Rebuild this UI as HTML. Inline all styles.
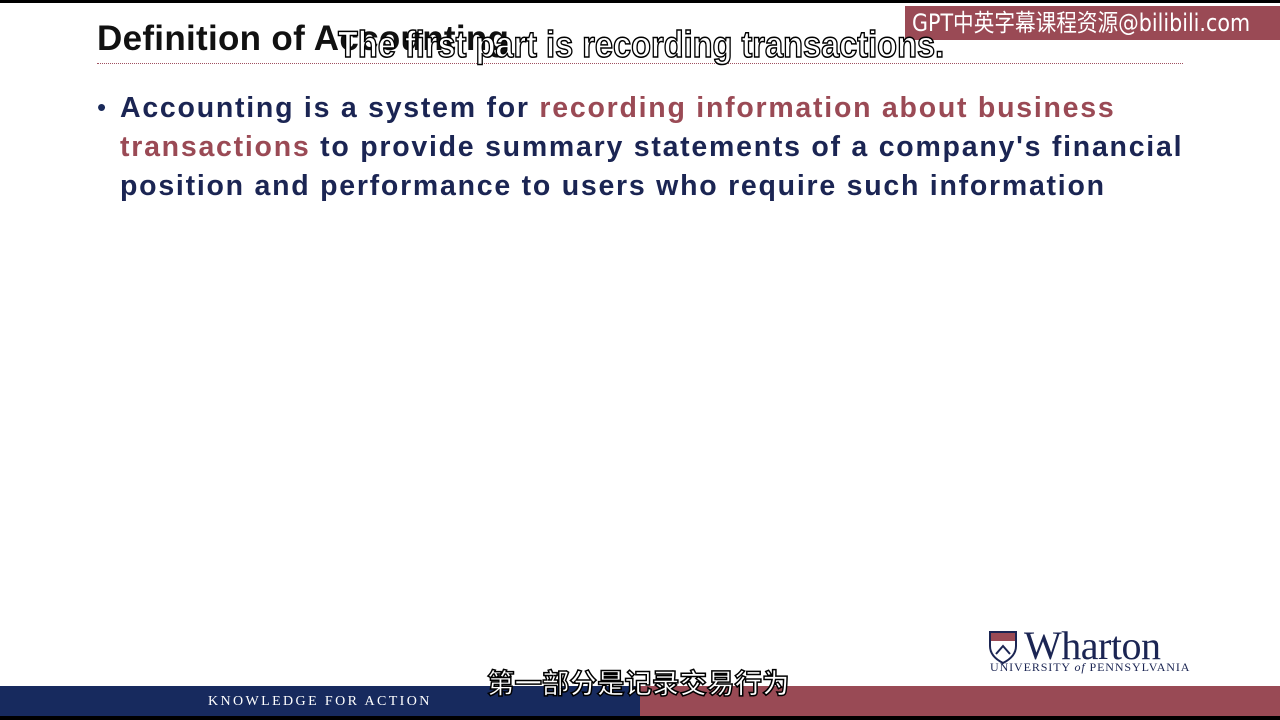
<!DOCTYPE html>
<html><head><meta charset="utf-8"><style>
body{margin:0;width:1280px;height:720px;background:#fff;position:relative;overflow:hidden;font-family:"Liberation Sans","Noto Sans CJK SC",sans-serif}
div,span{position:absolute}
.t{white-space:nowrap}
</style></head><body>
<div style="left:0;top:0;width:1280px;height:3px;background:#000"></div>
<div class="t" style="left:97px;top:19px;font-size:35px;font-weight:bold;color:#111;letter-spacing:0.3px">Definition of Accounting</div>
<div style="left:97px;top:63px;width:1086px;border-top:1px dotted #a05060"></div>
<div style="left:905px;top:6px;width:375px;height:34px;background:#9a4a55"></div>
<div class="t" style="left:912px;top:6px;color:#fff;font-size:24px;line-height:34px;font-family:'DejaVu Sans','Noto Sans CJK SC',sans-serif;transform:scaleX(0.86);transform-origin:0 0">GPT中英字幕课程资源@bilibili.com</div>
<div class="t" style="left:338px;top:24px;font-size:37px;font-weight:bold;color:#fff;-webkit-text-stroke:1.5px #000;transform:scaleX(0.88);transform-origin:0 0">The first part is recording transactions.</div>
<div style="left:97px;top:92px;font-size:26px;color:#1a2a5a">•</div>
<div class="t" style="left:120px;top:89px;font-size:28.5px;font-weight:bold;line-height:39px;color:#1b2553;letter-spacing:1.75px">Accounting is a system for <span style="position:static;color:#9a4a55">recording information about business</span><br><span style="position:static;color:#9a4a55">transactions</span> to provide summary statements of a company's financial<br>position and performance to users who require such information</div>
<div style="left:988px;top:628px;width:200px;height:45px">
<svg width="30" height="34" style="position:absolute;left:0;top:2px"><path d="M2 2h26v14c0 9-7 14-13 17C9 30 2 25 2 16z" fill="none" stroke="#1b2553" stroke-width="2"/><rect x="3" y="3" width="24" height="8" fill="#9a4a55"/><path d="M8 24l7-8 7 8" fill="none" stroke="#1b2553" stroke-width="2"/></svg>
<span class="t" style="left:36px;top:-6px;font-family:'Liberation Serif',serif;font-size:40px;color:#1b2553;letter-spacing:-0.5px">Wharton</span>
<span class="t" style="left:2px;top:32px;font-family:'Liberation Serif',serif;font-size:12px;color:#1b2553;letter-spacing:0.9px">UNIVERSITY <i>of</i> PENNSYLVANIA</span>
</div>
<div style="left:0;top:686px;width:640px;height:30px;background:#172a5e"></div>
<div style="left:640px;top:686px;width:640px;height:30px;background:#994a55"></div>
<div class="t" style="left:208px;top:694px;font-family:'Liberation Serif',serif;font-size:14px;color:#fff;letter-spacing:2.4px">KNOWLEDGE FOR ACTION</div>
<div style="left:0;top:716px;width:1280px;height:4px;background:#000"></div>
<div class="t" style="left:487px;top:661px;font-size:27.5px;font-weight:bold;color:#fff;-webkit-text-stroke:1.5px #000;font-family:'Noto Sans CJK SC',sans-serif">第一部分是记录交易行为</div>
</body></html>
